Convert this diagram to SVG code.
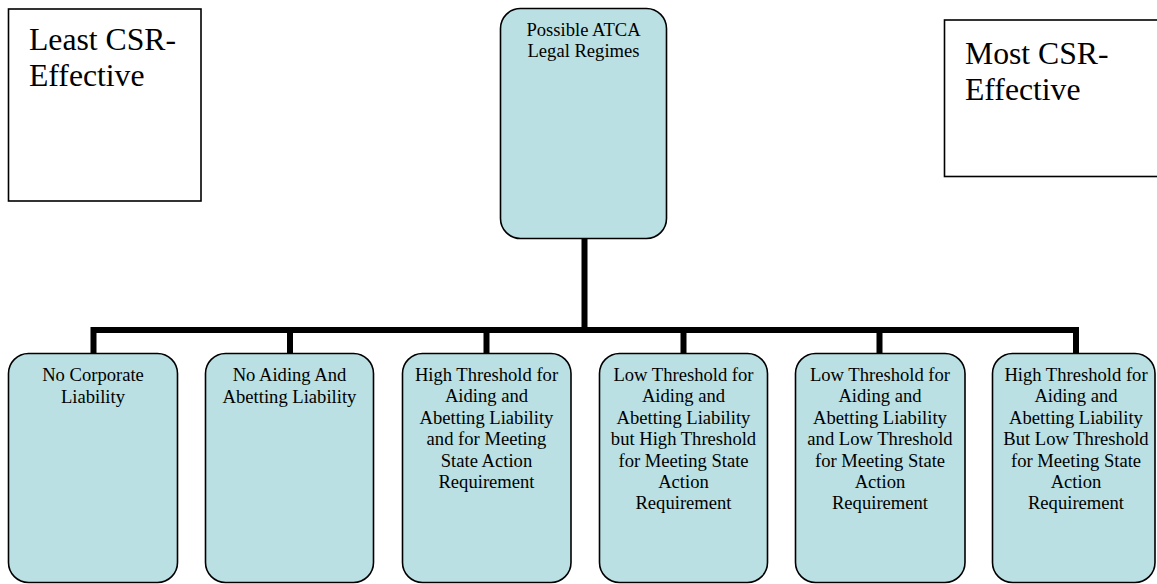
<svg xmlns="http://www.w3.org/2000/svg" width="1157" height="584" viewBox="0 0 1157 584">
<style>
.plain{fill:#ffffff;stroke:#000000;stroke-width:1.6}
.node{fill:#bae0e3;stroke:#000000;stroke-width:1.6}
.big{font-size:31.7px;fill:#000}
.lbl{font-size:18.6px;fill:#000;text-anchor:middle}
.conn{fill:none;stroke:#000000;stroke-width:6}
</style>
<rect width="1157" height="584" fill="#ffffff"/>
<g id="connectors">
<path class="conn" d="M584.5 238 V330 M93.5 353 V330 H1076 V353 M290 330 V353 M486.5 330 V353 M683.5 330 V353 M879.5 330 V353"/>
</g>
<g font-family="'Liberation Serif', serif">
<g id="least">
<rect class="plain" x="8.5" y="9" width="192.5" height="192"/>
<text class="big" x="29" y="49.5">Least CSR-</text>
<text class="big" x="29" y="86">Effective</text>
</g>
<g id="most">
<rect class="plain" x="944.5" y="20" width="220" height="156.5"/>
<text class="big" x="965" y="63.5">Most CSR-</text>
<text class="big" x="965" y="99.5">Effective</text>
</g>
<g id="root">
<rect class="node" x="500.5" y="8.5" width="166" height="230" rx="20" ry="20"/>
<text class="lbl" x="583.5" y="35.5">Possible ATCA</text>
<text class="lbl" x="583.5" y="56.5">Legal Regimes</text>
</g>
<g id="n1">
<rect class="node" x="8.5" y="353.5" width="169" height="229" rx="20" ry="20"/>
<text class="lbl" x="93" y="381">No Corporate</text>
<text class="lbl" x="93" y="402.5">Liability</text>
</g>
<g id="n2">
<rect class="node" x="205.5" y="353.5" width="168" height="229" rx="20" ry="20"/>
<text class="lbl" x="289.5" y="381">No Aiding And</text>
<text class="lbl" x="289.5" y="402.5">Abetting Liability</text>
</g>
<g id="n3">
<rect class="node" x="402.5" y="353.5" width="168.5" height="229" rx="20" ry="20"/>
<text class="lbl" x="486.5" y="381">High Threshold for</text>
<text class="lbl" x="486.5" y="402.4">Aiding and</text>
<text class="lbl" x="486.5" y="423.8">Abetting Liability</text>
<text class="lbl" x="486.5" y="445.2">and for Meeting</text>
<text class="lbl" x="486.5" y="466.6">State Action</text>
<text class="lbl" x="486.5" y="488">Requirement</text>
</g>
<g id="n4">
<rect class="node" x="599.5" y="353.5" width="168" height="229" rx="20" ry="20"/>
<text class="lbl" x="683.5" y="381">Low Threshold for</text>
<text class="lbl" x="683.5" y="402.4">Aiding and</text>
<text class="lbl" x="683.5" y="423.8">Abetting Liability</text>
<text class="lbl" x="683.5" y="445.2">but High Threshold</text>
<text class="lbl" x="683.5" y="466.6">for Meeting State</text>
<text class="lbl" x="683.5" y="488">Action</text>
<text class="lbl" x="683.5" y="509.4">Requirement</text>
</g>
<g id="n5">
<rect class="node" x="795.5" y="353.5" width="169.5" height="229" rx="20" ry="20"/>
<text class="lbl" x="880" y="381">Low Threshold for</text>
<text class="lbl" x="880" y="402.4">Aiding and</text>
<text class="lbl" x="880" y="423.8">Abetting Liability</text>
<text class="lbl" x="880" y="445.2">and Low Threshold</text>
<text class="lbl" x="880" y="466.6">for Meeting State</text>
<text class="lbl" x="880" y="488">Action</text>
<text class="lbl" x="880" y="509.4">Requirement</text>
</g>
<g id="n6">
<rect class="node" x="992.5" y="353.5" width="162.5" height="229" rx="20" ry="20"/>
<text class="lbl" x="1076" y="381">High Threshold for</text>
<text class="lbl" x="1076" y="402.4">Aiding and</text>
<text class="lbl" x="1076" y="423.8">Abetting Liability</text>
<text class="lbl" x="1076" y="445.2">But Low Threshold</text>
<text class="lbl" x="1076" y="466.6">for Meeting State</text>
<text class="lbl" x="1076" y="488">Action</text>
<text class="lbl" x="1076" y="509.4">Requirement</text>
</g>
</g>
</svg>
